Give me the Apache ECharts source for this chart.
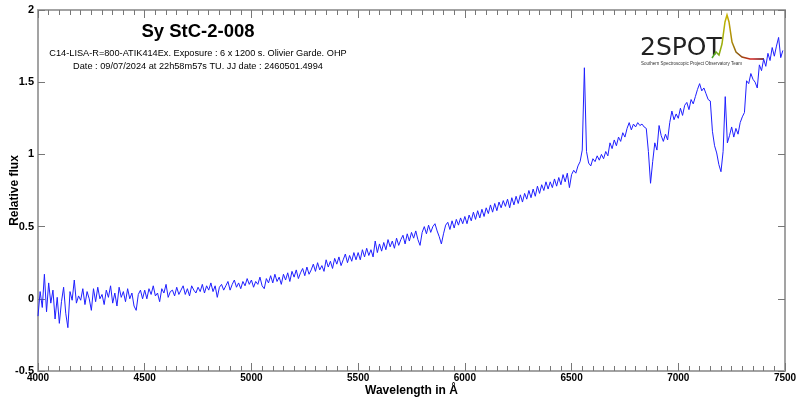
<!DOCTYPE html>
<html style="height: 100%">
<head>
    <meta charset="utf-8">
</head>
<body style="height: 100%; margin: 0; background: #fff">
    <div id="container" style="width: 800px; height: 399px"></div>
    <script type="text/javascript" src="https://cdn.jsdelivr.net/npm/echarts@6/dist/echarts.min.js"></script>
    <script type="text/javascript">
        // spectrum sampled every 10 A from 4000 A
        var waveStart = 4000;
        var waveStep = 10;

        var flux4000 = [
            -0.12, 0.05, -0.06, 0.17, -0.09, 0.11, -0.03, 0.06, -0.14, 0.01,
            -0.17, -0.02, 0.08, -0.10, -0.20, 0.05, -0.01, 0.13, -0.03, 0.02,
            -0.01, 0.07, -0.04, 0.05, 0.00, -0.08, 0.07, -0.02, 0.08, 0.00,
            0.03, -0.04, 0.06, 0.01, 0.09, -0.03, 0.04, -0.05, 0.08, 0.01,
            0.05, -0.02, 0.07, 0.00, 0.04, -0.05, -0.08, 0.03, 0.06, 0.00
        ];
        var flux4500 = [
            0.06, 0.00, 0.07, 0.03, 0.09, 0.02, 0.04, -0.02, 0.07, 0.04,
            0.10, 0.01, 0.05, 0.06, 0.02, 0.08, 0.03, 0.06, 0.09, 0.03,
            0.07, 0.02, 0.09, 0.06, 0.04, 0.08, 0.05, 0.10, 0.04, 0.09,
            0.06, 0.11, 0.05, 0.09, 0.01, 0.08, 0.10, 0.06, 0.09, 0.12,
            0.06, 0.10, 0.13, 0.08, 0.11, 0.07, 0.12, 0.09, 0.14, 0.10
        ];
        var flux5000 = [
            0.13, 0.08, 0.12, 0.10, 0.15, 0.09, 0.07, 0.14, 0.11, 0.16,
            0.11, 0.17, 0.12, 0.15, 0.10, 0.17, 0.13, 0.18, 0.12, 0.19,
            0.15, 0.20, 0.14, 0.18, 0.21, 0.16, 0.22, 0.17, 0.20, 0.24,
            0.19, 0.25, 0.20, 0.23, 0.19, 0.27, 0.22, 0.26, 0.21, 0.28,
            0.24, 0.29, 0.23, 0.27, 0.31, 0.25, 0.30, 0.26, 0.32, 0.27
        ];
        var flux5500 = [
            0.32, 0.27, 0.34, 0.29, 0.35, 0.30, 0.34, 0.29, 0.40, 0.32,
            0.38, 0.33, 0.39, 0.34, 0.41, 0.36, 0.40, 0.35, 0.42, 0.37,
            0.41, 0.44, 0.38, 0.45, 0.40, 0.46, 0.42, 0.47, 0.41, 0.37,
            0.46, 0.50, 0.45, 0.51, 0.46, 0.50, 0.52, 0.47, 0.43, 0.38,
            0.45, 0.51, 0.53, 0.48, 0.54, 0.49, 0.55, 0.51, 0.56, 0.52
        ];
        var flux6000 = [
            0.57, 0.52, 0.58, 0.54, 0.60, 0.55, 0.61, 0.56, 0.62, 0.57,
            0.63, 0.59, 0.65, 0.60, 0.66, 0.61, 0.67, 0.63, 0.68, 0.64,
            0.69, 0.63, 0.70, 0.65, 0.71, 0.66, 0.72, 0.67, 0.73, 0.69,
            0.75, 0.70, 0.76, 0.71, 0.78, 0.73, 0.79, 0.75, 0.81, 0.76,
            0.81, 0.77, 0.83, 0.78, 0.84, 0.79, 0.86, 0.81, 0.87, 0.77
        ];
        var flux6500 = [
            0.86, 0.89, 0.87, 0.92, 0.95, 1.03, 1.60, 1.02, 0.94, 0.92,
            0.97, 0.95, 0.99, 0.96, 1.00, 0.97, 1.02, 0.99, 1.08, 1.04,
            1.10, 1.06, 1.12, 1.09, 1.15, 1.12, 1.18, 1.22, 1.17, 1.21,
            1.19, 1.22, 1.20, 1.21, 1.19, 1.18, 1.02, 0.80, 0.95, 1.08,
            1.03, 1.20, 1.13, 1.09, 1.14, 1.10, 1.22, 1.30, 1.24, 1.28
        ];
        var flux7000 = [
            1.25, 1.32, 1.27, 1.34, 1.36, 1.31, 1.38, 1.35, 1.40, 1.45,
            1.49, 1.44, 1.46, 1.42, 1.38, 1.37, 1.16, 1.06, 1.01, 0.93,
            0.88, 1.02, 1.40, 1.08, 1.13, 1.19, 1.12, 1.18, 1.14, 1.22,
            1.26, 1.29, 1.51, 1.49, 1.56, 1.52, 1.50, 1.46, 1.62, 1.58,
            1.66, 1.61, 1.70, 1.65, 1.74, 1.68, 1.75, 1.81, 1.67, 1.72
        ];

        var xTicks = { min: 4000, max: 7500, interval: 500 };
        var yTicks = { min: -0.5, max: 2, interval: 0.5 };

        var flux = [].concat(flux4000, flux4500, flux5000, flux5500, flux6000, flux6500, flux7000);
        var spectrum = flux.map(function (f, i) {
            return [waveStart + i * waveStep, f];
        });

        var axisGray = '#a3a3a3';
        var labelFont = '"Liberation Sans Narrow", "Liberation Sans", Arial, sans-serif';
        var plain = function (v) { return String(v); };

        var dom = document.getElementById("container");
        var myChart = echarts.init(dom);
        var option = {
            animation: false,
            backgroundColor: '#fff',
            grid: { left: 38, right: 15, top: 10, bottom: 28, containLabel: false, outerBoundsMode: 'none' },
            xAxis: [{
                type: 'value',
                position: 'bottom',
                min: xTicks.min, max: xTicks.max, interval: xTicks.interval,
                name: 'Wavelength in Å',
                nameLocation: 'middle',
                nameGap: 14,
                nameMoveOverlap: false,
                nameTextStyle: { fontSize: 12, fontWeight: 'bold', color: '#000', fontFamily: labelFont },
                axisLine: { onZero: false, lineStyle: { color: axisGray, width: 2 } },
                axisTick: { inside: true, length: 8, lineStyle: { color: '#777' } },
                minorTick: { show: true, splitNumber: 10, length: 5, lineStyle: { color: '#777' } },
                axisLabel: { margin: 2, fontSize: 10, fontWeight: 'bold', color: '#000', fontFamily: labelFont, formatter: plain },
                splitLine: { show: false }
            }, {
                type: 'value',
                position: 'top',
                min: xTicks.min, max: xTicks.max, interval: xTicks.interval,
                axisLine: { onZero: false, lineStyle: { color: axisGray, width: 2 } },
                axisTick: { inside: true, length: 8, lineStyle: { color: '#777' } },
                minorTick: { show: true, splitNumber: 10, length: 5, lineStyle: { color: '#777' } },
                axisLabel: { show: false },
                splitLine: { show: false }
            }],
            yAxis: [{
                type: 'value',
                position: 'left',
                min: yTicks.min, max: yTicks.max, interval: yTicks.interval,
                name: 'Relative flux',
                nameLocation: 'middle',
                nameGap: 17,
                nameMoveOverlap: false,
                nameTextStyle: { fontSize: 12, fontWeight: 'bold', color: '#000', fontFamily: labelFont },
                axisLine: { show: true, onZero: false, lineStyle: { color: axisGray, width: 2 } },
                axisTick: { show: true, inside: true, length: 7, lineStyle: { color: '#777' } },
                axisLabel: { margin: 4, fontSize: 11, fontWeight: 'bold', color: '#000', fontFamily: labelFont, formatter: plain },
                splitLine: { show: false }
            }, {
                type: 'value',
                position: 'right',
                min: yTicks.min, max: yTicks.max, interval: yTicks.interval,
                axisLine: { show: true, onZero: false, lineStyle: { color: axisGray, width: 2 } },
                axisTick: { show: true, inside: true, length: 7, lineStyle: { color: '#777' } },
                axisLabel: { show: false },
                splitLine: { show: false }
            }],
            graphic: [
                { type: 'text', x: 198, y: 32, style: { text: 'Sy StC-2-008', textAlign: 'center', textVerticalAlign: 'middle', font: 'bold 18.5px "Liberation Sans", Arial, sans-serif', fill: '#000' } },
                { type: 'text', x: 198, y: 53, style: { text: 'C14-LISA-R=800-ATIK414Ex. Exposure : 6 x 1200 s. Olivier Garde. OHP', textAlign: 'center', textVerticalAlign: 'middle', font: '9.2px "Liberation Sans", Arial, sans-serif', fill: '#000' } },
                { type: 'text', x: 198, y: 66, style: { text: 'Date : 09/07/2024 at 22h58m57s TU. JJ date : 2460501.4994', textAlign: 'center', textVerticalAlign: 'middle', font: '9.2px "Liberation Sans", Arial, sans-serif', fill: '#000' } },
                // 2SPOT logo
                { type: 'text', x: 640, y: 48, style: { text: '2SPOT', textVerticalAlign: 'middle', font: '25px "DejaVu Sans", sans-serif', fill: '#222' } },
                { type: 'text', x: 641, y: 64, style: { text: 'Southern Spectroscopic Project Observatory Team', textVerticalAlign: 'middle', font: '4.5px Arial, sans-serif', fill: '#333' } },
                {
                    type: 'polyline',
                    shape: { points: [[712, 58], [716, 52], [719, 55], [722, 44], [725, 22], [727, 15], [729, 22], [732, 42], [736, 52], [742, 57], [750, 59], [764, 59]] },
                    style: {
                        fill: null, lineWidth: 1.5,
                        stroke: new echarts.graphic.LinearGradient(0, 0, 1, 0, [
                            { offset: 0, color: '#2aa02a' },
                            { offset: 0.3, color: '#c8b400' },
                            { offset: 0.5, color: '#8a5a10' },
                            { offset: 0.75, color: '#d02020' },
                            { offset: 1, color: '#300000' }
                        ])
                    }
                }
            ],
            series: [{
                type: 'line',
                xAxisIndex: 0,
                yAxisIndex: 0,
                data: spectrum,
                showSymbol: false,
                symbol: 'none',
                lineStyle: { color: '#1f1fff', width: 1 },
                z: 3
            }]
        };
        myChart.setOption(option, true);
    </script>
</body>
</html>
